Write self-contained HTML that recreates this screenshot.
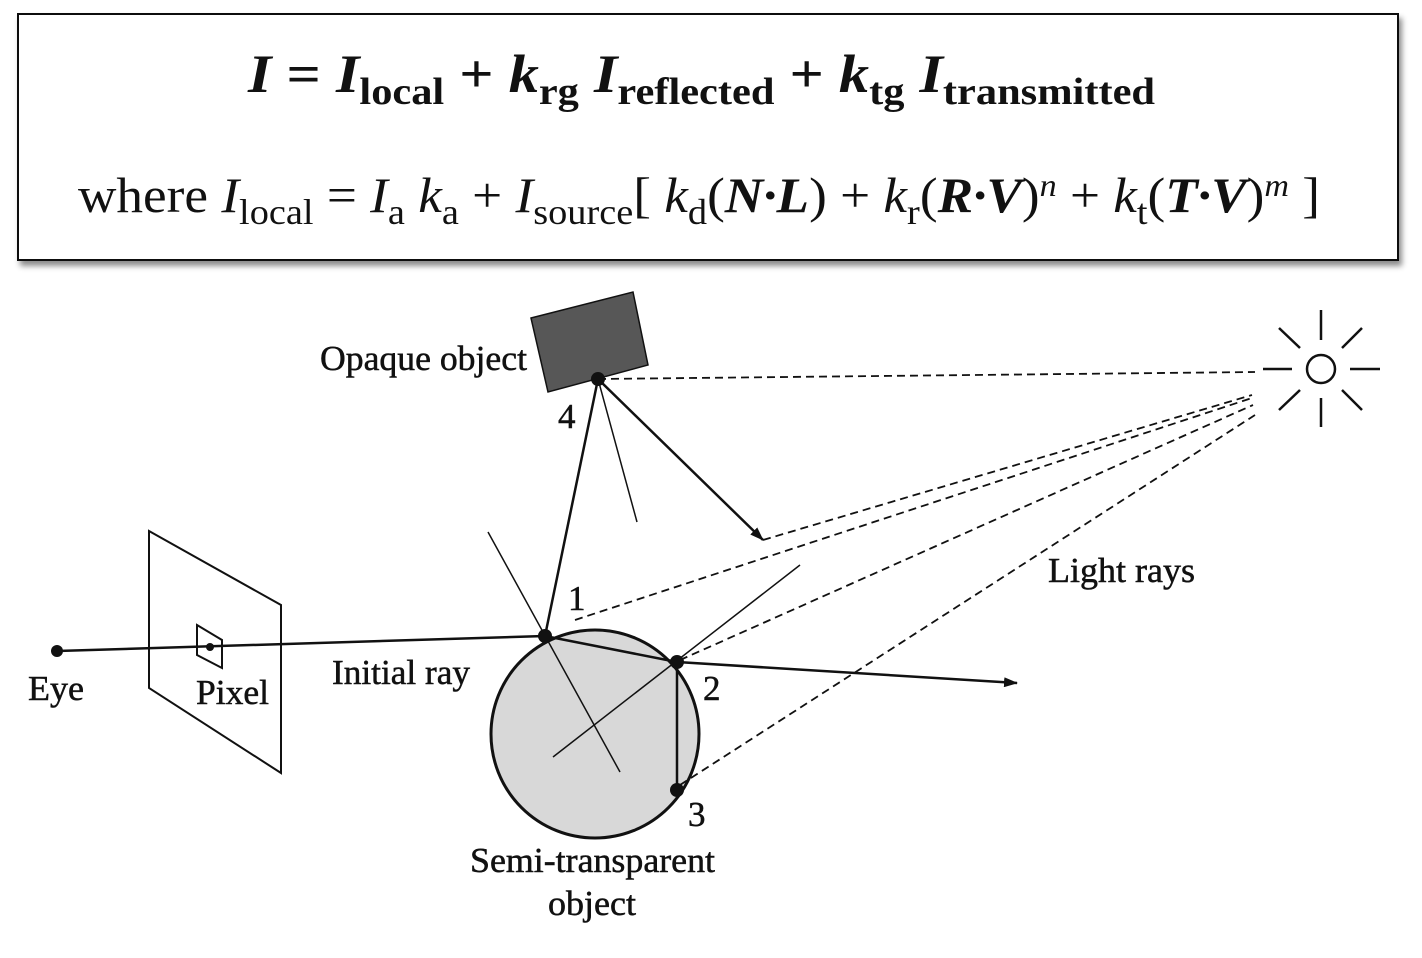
<!DOCTYPE html>
<html><head><meta charset="utf-8"><style>
html,body{margin:0;padding:0;background:#fff;}
svg{display:block;}
text{font-family:"Liberation Serif",serif;fill:#111;}
.lbl{stroke:#111;stroke-width:0.5;}
</style></head><body>
<svg width="1422" height="958" viewBox="0 0 1422 958">
<defs>
<filter id="sh" x="-5%" y="-10%" width="110%" height="130%"><feDropShadow dx="3" dy="5" stdDeviation="3" flood-color="#000" flood-opacity="0.45"/></filter>
<marker id="ah" markerWidth="14" markerHeight="10" refX="13" refY="5" orient="auto" markerUnits="userSpaceOnUse"><path d="M0,0 L14,5 L0,10 Z" fill="#111"/></marker>
</defs>
<g>
<rect x="18" y="14" width="1380" height="246" fill="#fff" stroke="#111" stroke-width="2" filter="url(#sh)"/>
<text x="248" y="92" font-size="54" font-weight="bold" textLength="907" lengthAdjust="spacingAndGlyphs"><tspan font-style="italic">I</tspan> = <tspan font-style="italic">I</tspan><tspan font-size="38" dy="12">local</tspan><tspan dy="-12"> + </tspan><tspan font-style="italic">k</tspan><tspan font-size="38" dy="12">rg</tspan><tspan dy="-12"> </tspan><tspan font-style="italic">I</tspan><tspan font-size="38" dy="12">reflected</tspan><tspan dy="-12"> + </tspan><tspan font-style="italic">k</tspan><tspan font-size="38" dy="12">tg</tspan><tspan dy="-12"> </tspan><tspan font-style="italic">I</tspan><tspan font-size="38" dy="12">transmitted</tspan></text>
<text x="78" y="212" font-size="50" textLength="1242" lengthAdjust="spacingAndGlyphs">where   <tspan font-style="italic">I</tspan><tspan font-size="36" dy="12">local</tspan><tspan dy="-12"> = </tspan><tspan font-style="italic">I</tspan><tspan font-size="36" dy="12">a</tspan><tspan dy="-12"> </tspan><tspan font-style="italic">k</tspan><tspan font-size="36" dy="12">a</tspan><tspan dy="-12"> + </tspan><tspan font-style="italic">I</tspan><tspan font-size="36" dy="12">source</tspan><tspan dy="-12">[ </tspan><tspan font-style="italic">k</tspan><tspan font-size="36" dy="12">d</tspan><tspan dy="-12">(</tspan><tspan font-weight="bold" font-style="italic">N·L</tspan>) + <tspan font-style="italic">k</tspan><tspan font-size="36" dy="12">r</tspan><tspan dy="-12">(</tspan><tspan font-weight="bold" font-style="italic">R·V</tspan>)<tspan font-size="32" font-style="italic" dy="-16">n</tspan><tspan dy="16"> + </tspan><tspan font-style="italic">k</tspan><tspan font-size="36" dy="12">t</tspan><tspan dy="-12">(</tspan><tspan font-weight="bold" font-style="italic">T·V</tspan>)<tspan font-size="32" font-style="italic" dy="-16">m</tspan><tspan dy="16"> ]</tspan></text>
</g>

<g stroke="#111" fill="none">
<circle cx="595" cy="734" r="104" fill="#d8d8d8" stroke-width="3"/>
<polygon points="149,531 281,605 281,773 149,688" stroke-width="2"/>
<polygon points="197,625 222,640 222,668 197,655" stroke-width="2"/>
<polygon points="531,318 633,292 648,365 548,392" fill="#575757" stroke-width="1.5"/>
<line x1="57" y1="651" x2="545" y2="636" stroke-width="2.5"/>
<line x1="545" y1="636" x2="677" y2="662" stroke-width="2.5"/>
<line x1="677" y1="662" x2="677" y2="790" stroke-width="2.5"/>
<line x1="545" y1="636" x2="598" y2="379" stroke-width="2.5"/>
<line x1="488" y1="532" x2="620" y2="772" stroke-width="1.5"/>
<line x1="800" y1="565" x2="553" y2="757" stroke-width="1.5"/>
<line x1="598" y1="379" x2="637" y2="522" stroke-width="1.5"/>
<line x1="598" y1="379" x2="763" y2="540" stroke-width="2.5" marker-end="url(#ah)"/>
<line x1="677" y1="662" x2="1017" y2="683" stroke-width="2.5" marker-end="url(#ah)"/>
<g stroke-dasharray="8,5" stroke-width="1.8">
<line x1="598" y1="379" x2="1255" y2="372"/>
<line x1="575" y1="620" x2="1252" y2="398"/>
<line x1="680" y1="660" x2="1253" y2="405"/>
<line x1="763" y1="540" x2="1252" y2="395"/>
<line x1="680" y1="785" x2="1255" y2="415"/>
</g>
<g stroke-width="2.5">
<circle cx="1321" cy="369" r="14"/>
<line x1="1321" y1="310" x2="1321" y2="340"/><line x1="1321" y1="398" x2="1321" y2="427"/>
<line x1="1263" y1="369" x2="1292" y2="369"/><line x1="1350" y1="369" x2="1380" y2="369"/>
<line x1="1279" y1="328" x2="1300" y2="348"/><line x1="1342" y1="348" x2="1362" y2="328"/>
<line x1="1279" y1="410" x2="1300" y2="390"/><line x1="1342" y1="390" x2="1362" y2="410"/>
</g>
</g>
<g fill="#111">
<circle cx="57" cy="651" r="6"/><circle cx="210" cy="647" r="4"/>
<circle cx="545" cy="636" r="7"/><circle cx="677" cy="662" r="7"/><circle cx="677" cy="790" r="7"/><circle cx="598" cy="379" r="7"/>
</g>
<g font-size="35" class="lbl">
<text x="320" y="370" textLength="207" lengthAdjust="spacingAndGlyphs">Opaque object</text>
<text x="558" y="428">4</text>
<text x="568" y="610">1</text>
<text x="703" y="700">2</text>
<text x="688" y="826">3</text>
<text x="28" y="700" textLength="56" lengthAdjust="spacingAndGlyphs">Eye</text>
<text x="196" y="704" textLength="73" lengthAdjust="spacingAndGlyphs">Pixel</text>
<text x="332" y="684" textLength="138" lengthAdjust="spacingAndGlyphs">Initial ray</text>
<text x="1048" y="582" textLength="147" lengthAdjust="spacingAndGlyphs">Light rays</text>
<text x="470" y="872" textLength="245" lengthAdjust="spacingAndGlyphs">Semi-transparent</text>
<text x="548" y="915" textLength="88" lengthAdjust="spacingAndGlyphs">object</text>
</g>
</svg>
</body></html>
